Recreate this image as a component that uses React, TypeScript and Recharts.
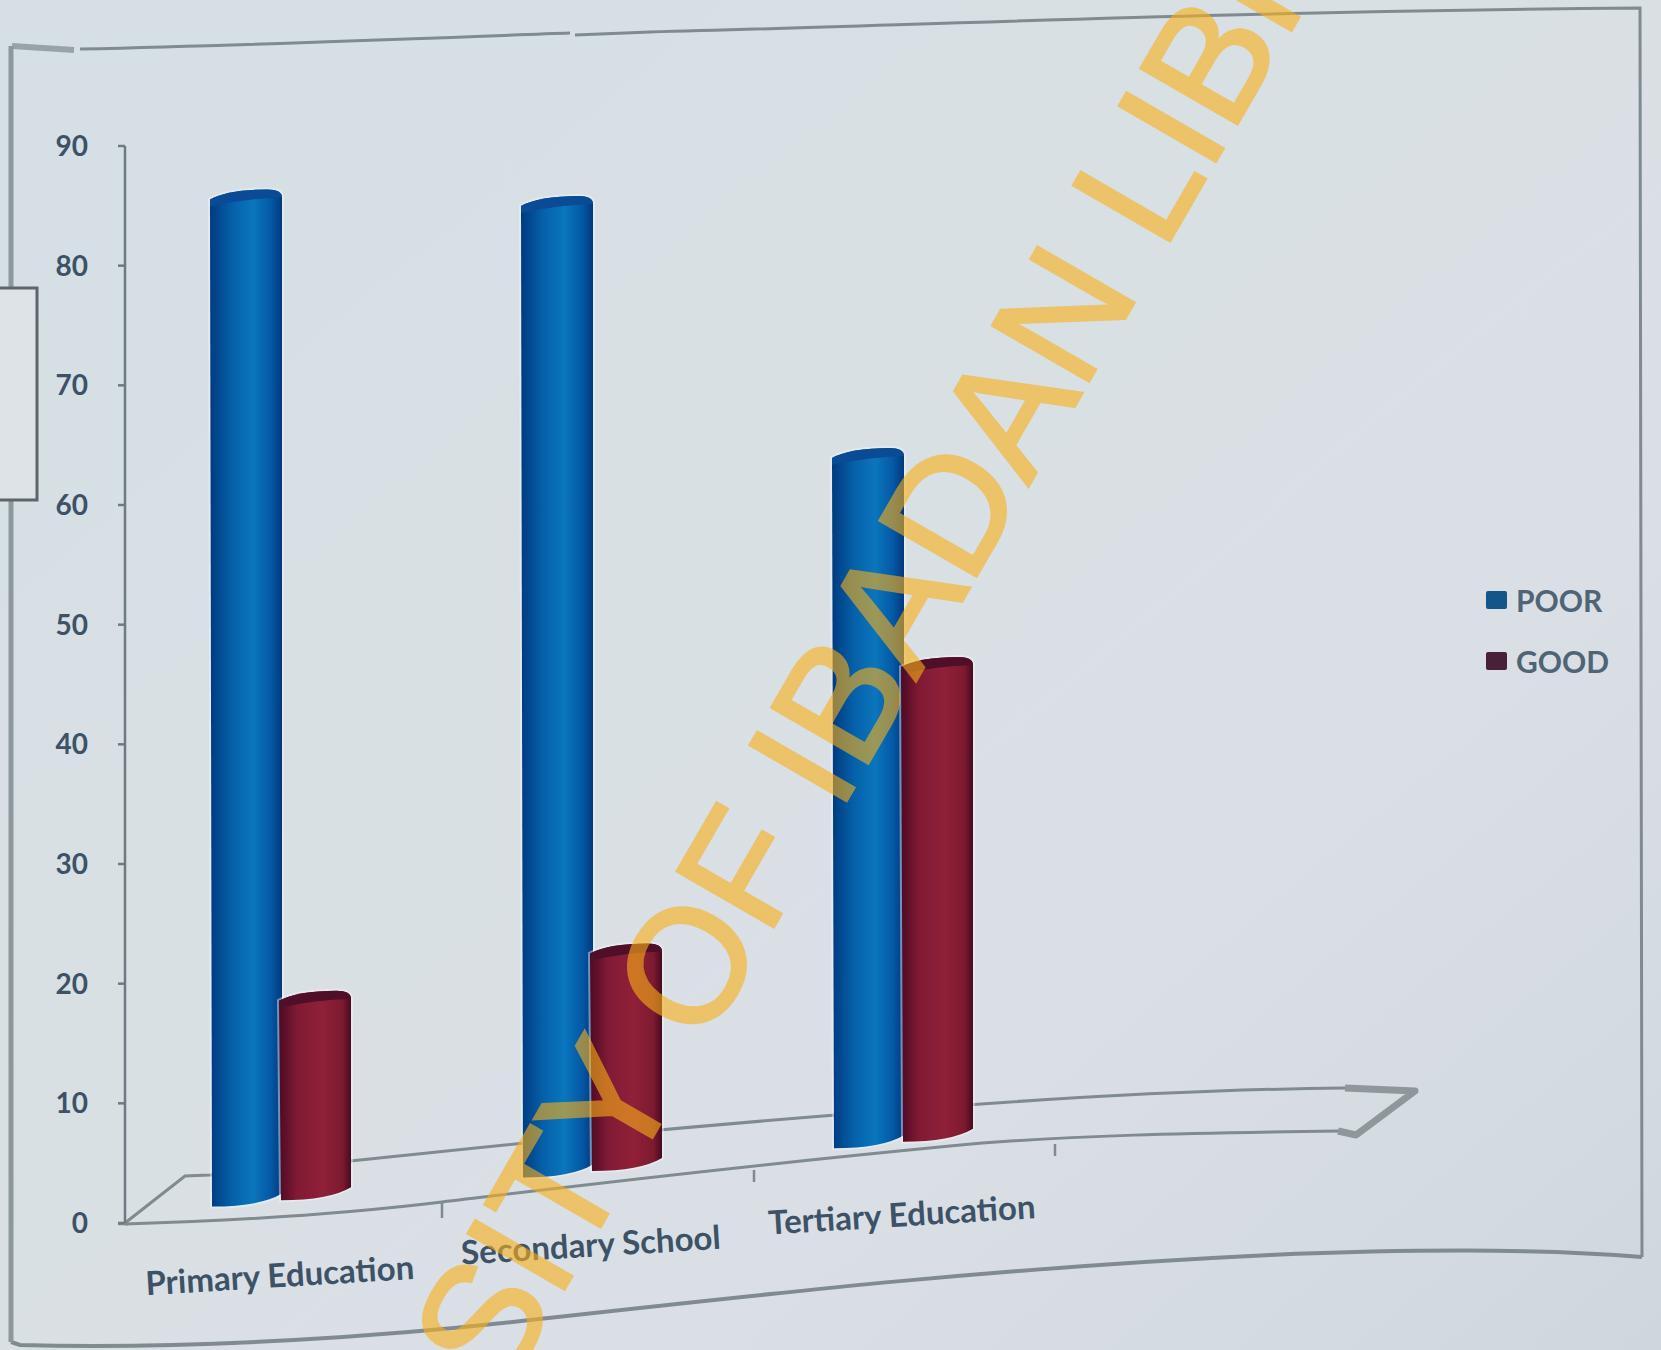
import { BarChart, Bar, XAxis, YAxis, Legend } from "recharts";

const categories = ["Primary Education", "Secondary School", "Tertiary Education", ""];
const poorValues = [85, 82, 58.5, null];
const goodValues = [17.5, 19, 40.5, null];
const yTicks = [0, 10, 20, 30, 40, 50, 60, 70, 80, 90];

const chartData = categories.map((name, i) => ({
  name,
  POOR: poorValues[i],
  GOOD: goodValues[i],
}));

const WIDTH = 1661;
const HEIGHT = 1350;
const FONT = "Lato, 'Open Sans', sans-serif";
const LABEL_COLOR = "#3d5266";
const LINE_COLOR = "#7f8b90";

// the floor of the 3D plot climbs to the right, bars sit on it
const FLOOR_SLOPE = 0.094;

function floorRise(centerX: number) {
  return 16 + (centerX - 242) * FLOOR_SLOPE;
}

function Cylinder(props: any) {
  const { x, y, width, height, gradient, cap } = props;
  if (!height || height <= 0) return null;
  const rise = floorRise(x + width / 2);
  const top = y - rise;
  const bottom = y + height - rise;
  const body = [
    `M${x} ${top + 10}`,
    `Q${x + width * 0.25} ${top} ${x + width * 0.8} ${top}`,
    `Q${x + width} ${top} ${x + width} ${top + 8}`,
    `L${x + width} ${bottom - 13}`,
    `Q${x + width * 0.7} ${bottom} ${x + 2} ${bottom}`,
    "Z",
  ].join(" ");
  const lid = [
    `M${x} ${top + 10}`,
    `Q${x + width * 0.25} ${top} ${x + width * 0.8} ${top}`,
    `Q${x + width} ${top} ${x + width} ${top + 8}`,
    `Q${x + width * 0.5} ${top + 9} ${x} ${top + 17}`,
    "Z",
  ].join(" ");
  return (
    <g>
      <path d={body} fill="none" stroke="#f1f7fa" strokeWidth={4} strokeOpacity={0.45} />
      <path d={body} fill={`url(#${gradient})`} />
      <path d={lid} fill={cap} />
    </g>
  );
}

function CategoryTick(props: any) {
  const { x, y, payload } = props;
  if (!payload.value) return null;
  const ty = y + 56 - (x - 281) * 0.0976;
  return (
    <text
      x={x}
      y={ty}
      textAnchor="middle"
      transform={`rotate(-3.5 ${x} ${ty})`}
      fontFamily={FONT}
      fontWeight={700}
      fontSize={33}
      fill={LABEL_COLOR}
    >
      {payload.value}
    </text>
  );
}

function LegendBox(props: any) {
  const rows = [...(props.payload || [])].sort((a: any, b: any) =>
    a.value === "POOR" ? -1 : b.value === "POOR" ? 1 : 0,
  );
  return (
    <div>
      {rows.map((entry: any) => (
        <div
          key={entry.value}
          style={{ display: "flex", alignItems: "center", height: 61, fontFamily: FONT, fontWeight: 700, fontSize: 30, color: "#4f6475" }}
        >
          <span style={{ width: 21, height: 18, background: entry.color, marginRight: 9, borderRadius: 2 }} />
          {entry.value}
        </div>
      ))}
    </div>
  );
}

// paper outline and the floor of the plot, drawn under the bars
function Backdrop() {
  return (
    <svg width={WIDTH} height={HEIGHT} style={{ position: "absolute", left: 0, top: 0 }}>
      <g fill="none" stroke={LINE_COLOR} strokeWidth={3}>
        <path d="M12 46 L74 50" strokeWidth={6} stroke="#98a3a8" />
        <path d="M80 49 C300 44 480 36 570 33 M575 35 L650 32" />
        <path d="M650 32 C900 26 1200 12 1640 8 L1642 1257" />
        <path d="M1642 1257 C1560 1250 1440 1248 1270 1255 C1000 1268 800 1290 530 1320 C400 1335 200 1350 20 1345 L11 1342" strokeWidth={4} />
        <path d="M11 46 L11 288 M11 500 L11 1342" strokeWidth={5} stroke="#8d989d" />
        <path d="M0 288 H37 V500 H0" stroke="#5c666b" fill="#dde3e7" strokeWidth={3} />
        {/* floor edges */}
        <path d="M125 1223 L185 1176 L210 1175 C380 1160 560 1135 940 1107 C1100 1095 1250 1089 1345 1088" />
        <path d="M125 1224 C260 1220 360 1212 442 1202 C560 1188 700 1170 950 1146 C1060 1135 1200 1133 1340 1131" />
        <path d="M442 1202 V1218 M754 1170 V1182 M1055 1144 V1156 M118 1224 H128" strokeWidth={2.5} />
        <path d="M1345 1088 L1415 1091 L1356 1135 L1338 1131" stroke="#8e979a" strokeWidth={7} strokeLinejoin="round" />
      </g>
    </svg>
  );
}

function Watermark() {
  return (
    <svg width={WIDTH} height={HEIGHT} style={{ position: "absolute", left: 0, top: 0, pointerEvents: "none" }}>
      <text
        x={197}
        y={1926}
        transform="rotate(-60 197 1926)"
        fontFamily="'Liberation Sans', sans-serif"
        fontSize={162}
        fill="#f9b019"
        stroke="#f9b019"
        strokeWidth={3}
        opacity={0.6}
      >
        UNIVERSITY OF IBADAN LIBRARY
      </text>
    </svg>
  );
}

export default function App() {
  return (
    <div
      style={{
        position: "absolute",
        left: 0,
        top: 0,
        width: WIDTH,
        height: HEIGHT,
        overflow: "hidden",
        background: "linear-gradient(140deg, #d5dfe5 0%, #d9e0e4 45%, #dadfe5 70%, #cfd7de 100%)",
      }}
    >
      <Backdrop />
      <BarChart
        width={WIDTH}
        height={HEIGHT}
        data={chartData}
        barSize={72}
        barGap={-3}
        margin={{ top: 146, right: 122, bottom: 0, left: 0 }}
        style={{ position: "absolute", left: 0, top: 0 }}
      >
        <defs>
          <linearGradient id="poorFill" x1="0" x2="1" y1="0" y2="0">
            <stop offset="0" stopColor="#003a80" />
            <stop offset="0.3" stopColor="#0560a8" />
            <stop offset="0.6" stopColor="#0a76bd" />
            <stop offset="0.85" stopColor="#0458a4" />
            <stop offset="1" stopColor="#02387c" />
          </linearGradient>
          <linearGradient id="goodFill" x1="0" x2="1" y1="0" y2="0">
            <stop offset="0" stopColor="#4e0a24" />
            <stop offset="0.25" stopColor="#801a34" />
            <stop offset="0.6" stopColor="#8f2038" />
            <stop offset="0.88" stopColor="#7d1a30" />
            <stop offset="1" stopColor="#470a20" />
          </linearGradient>
        </defs>
        <XAxis dataKey="name" height={127} interval={0} axisLine={false} tickLine={false} tick={<CategoryTick />} />
        <YAxis
          domain={[0, 90]}
          ticks={yTicks}
          interval={0}
          width={125}
          tickSize={7}
          tickMargin={30}
          axisLine={{ stroke: "#6d7a80", strokeWidth: 2.5 }}
          tickLine={{ stroke: "#6d7a80", strokeWidth: 2.5 }}
          tick={{ fontFamily: FONT, fontWeight: 700, fontSize: 28, fill: LABEL_COLOR }}
        />
        <Legend
          layout="vertical"
          align="right"
          verticalAlign="top"
          content={<LegendBox />}
          wrapperStyle={{ left: 1486, top: 569, width: 170, right: "auto", bottom: "auto" }}
        />
        <Bar dataKey="POOR" fill="#14558a" isAnimationActive={false} shape={<Cylinder gradient="poorFill" cap="#0b4a94" />} />
        <Bar dataKey="GOOD" fill="#4a1f38" isAnimationActive={false} shape={<Cylinder gradient="goodFill" cap="#4f0f28" />} />
      </BarChart>
      <Watermark />
    </div>
  );
}
